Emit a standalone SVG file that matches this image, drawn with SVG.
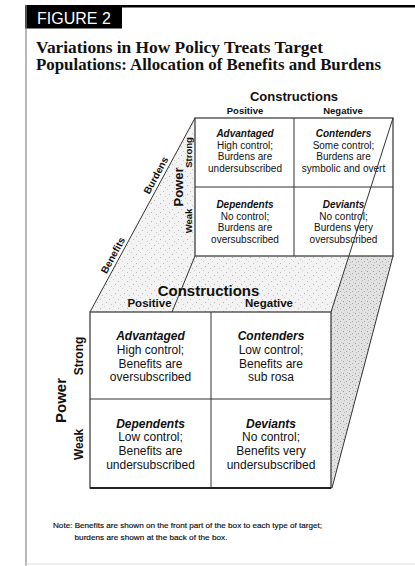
<svg xmlns="http://www.w3.org/2000/svg" width="415" height="566" viewBox="0 0 415 566">
<defs>
<pattern id="stip" width="9" height="9" patternUnits="userSpaceOnUse">
<rect width="9" height="9" fill="#f3f3f3"/>
<rect x="1" y="2" width="1" height="1" fill="#bdbdbd"/>
<rect x="5" y="0" width="1" height="1" fill="#cfcfcf"/>
<rect x="7" y="5" width="1" height="1" fill="#b5b5b5"/>
<rect x="3" y="7" width="1" height="1" fill="#c8c8c8"/>
</pattern>
<pattern id="stip2" width="6" height="6" patternUnits="userSpaceOnUse">
<rect width="6" height="6" fill="#e2e2e2"/>
<rect x="1" y="1" width="1" height="1" fill="#9a9a9a"/>
<rect x="4" y="3" width="1" height="1" fill="#a8a8a8"/>
<rect x="2" y="4" width="1" height="1" fill="#bbbbbb"/>
<rect x="5" y="0" width="1" height="1" fill="#c4c4c4"/>
</pattern>
</defs>
<style>
.s{font-family:"Liberation Sans",Arial,sans-serif;fill:#111}
.b{font-weight:bold}
.bi{font-weight:bold;font-style:italic}
.c{text-anchor:middle}
.t{font-family:"Liberation Serif","Times New Roman",serif;font-weight:bold;font-size:16.5px;fill:#111}
.box{fill:#fff;stroke:#333;stroke-width:1.2}
.edge{stroke:#333;stroke-width:1;fill:none}
.bk{font-size:10px}
.fr{font-size:12px}
</style>
<rect width="415" height="566" fill="#fff"/>
<g id="frame">
<rect x="25" y="5" width="390" height="2.5" fill="#000"/>
<rect x="25" y="5" width="97" height="23.5" fill="#000"/>
<line x1="26" y1="5" x2="26" y2="566" stroke="#888" stroke-width="1.2"/>
<line x1="26" y1="564" x2="415" y2="564" stroke="#ddd" stroke-width="1"/>
<text x="37" y="24" font-family="Liberation Sans,Arial,sans-serif" font-size="16" fill="#fff">FIGURE 2</text>
</g>
<g id="title">
<text class="t" x="36" y="52.5" textLength="287" lengthAdjust="spacingAndGlyphs">Variations in How Policy Treats Target</text>
<text class="t" x="36" y="70" textLength="345" lengthAdjust="spacingAndGlyphs">Populations: Allocation of Benefits and Burdens</text>
</g>
<g id="faces">
<polygon points="195,118 195,256 349,256 331,312 90,312" fill="url(#stip)"/>
<polygon points="349,256 393,256 332,488 331,488 331,312" fill="url(#stip2)"/>
</g>
<g id="back-labels">
<text class="s b c" x="294" y="101" font-size="13">Constructions</text>
<text class="s b c" x="245" y="114" font-size="9.5">Positive</text>
<text class="s b c" x="343" y="114" font-size="9.5">Negative</text>
<text class="s b c" transform="translate(182.5,187) rotate(-90)" font-size="13">Power</text>
<text class="s b c" transform="translate(191.5,152.5) rotate(-90)" font-size="9.5">Strong</text>
<text class="s b c" transform="translate(191.5,221) rotate(-90)" font-size="9.5">Weak</text>
<text class="s b c" transform="translate(159,177) rotate(-61.6)" font-size="10">Burdens</text>
<text class="s b c" transform="translate(116,257) rotate(-61.6)" font-size="10">Benefits</text>
</g>
<g id="back-box">
<rect class="box" x="195" y="118" width="198" height="138"/>
<line class="edge" x1="294" y1="118" x2="294" y2="256"/>
<line class="edge" x1="195" y1="187" x2="393" y2="187"/>
</g>
<g id="back-advantaged">
<text class="s bi c bk" x="245" y="137">Advantaged</text>
<text class="s c bk" x="245" y="148.7">High control;</text>
<text class="s c bk" x="245" y="160.4">Burdens are</text>
<text class="s c bk" x="245" y="172">undersubscribed</text>
</g>
<g id="back-contenders">
<text class="s bi c bk" x="343.5" y="137">Contenders</text>
<text class="s c bk" x="343.5" y="148.7">Some control;</text>
<text class="s c bk" x="343.5" y="160.4">Burdens are</text>
<text class="s c bk" x="343.5" y="172">symbolic and overt</text>
</g>
<g id="back-dependents">
<text class="s bi c bk" x="245" y="208">Dependents</text>
<text class="s c bk" x="245" y="219.7">No control;</text>
<text class="s c bk" x="245" y="231.4">Burdens are</text>
<text class="s c bk" x="245" y="243">oversubscribed</text>
</g>
<g id="back-deviants">
<text class="s bi c bk" x="343.5" y="208">Deviants</text>
<text class="s c bk" x="343.5" y="219.7">No control;</text>
<text class="s c bk" x="343.5" y="231.4">Burdens very</text>
<text class="s c bk" x="343.5" y="243">oversubscribed</text>
</g>
<g id="connectors">
<line class="edge" x1="195" y1="118" x2="90" y2="312"/>
<line class="edge" x1="195" y1="256" x2="172" y2="312"/>
<line class="edge" x1="393" y1="118" x2="331" y2="312"/>
<line class="edge" x1="393" y1="256" x2="332" y2="488"/>
</g>
<g id="front-labels">
<text class="s b c" x="208.5" y="295.5" font-size="15">Constructions</text>
<text class="s b c" x="149.5" y="307" font-size="11.5">Positive</text>
<text class="s b c" x="269" y="307" font-size="11.5">Negative</text>
<text class="s b c" transform="translate(65.5,400.5) rotate(-90)" font-size="15">Power</text>
<text class="s b c" transform="translate(82.5,356) rotate(-90)" font-size="12">Strong</text>
<text class="s b c" transform="translate(82.5,444.5) rotate(-90)" font-size="12">Weak</text>
</g>
<g id="front-box">
<rect class="box" x="90" y="312" width="241" height="176"/>
<line class="edge" x1="211" y1="312" x2="211" y2="488" stroke-width="1.2"/>
<line class="edge" x1="90" y1="399" x2="331" y2="399" stroke-width="1.2"/>
<line x1="90" y1="488" x2="331" y2="488" stroke="#222" stroke-width="2"/>
</g>
<g id="front-advantaged">
<text class="s bi c fr" x="150.5" y="340">Advantaged</text>
<text class="s c fr" x="150.5" y="354">High control;</text>
<text class="s c fr" x="150.5" y="367.5">Benefits are</text>
<text class="s c fr" x="150.5" y="381">oversubscribed</text>
</g>
<g id="front-contenders">
<text class="s bi c fr" x="271" y="340">Contenders</text>
<text class="s c fr" x="271" y="354">Low control;</text>
<text class="s c fr" x="271" y="367.5">Benefits are</text>
<text class="s c fr" x="271" y="381">sub rosa</text>
</g>
<g id="front-dependents">
<text class="s bi c fr" x="150.5" y="427.5">Dependents</text>
<text class="s c fr" x="150.5" y="441">Low control;</text>
<text class="s c fr" x="150.5" y="455">Benefits are</text>
<text class="s c fr" x="150.5" y="469">undersubscribed</text>
</g>
<g id="front-deviants">
<text class="s bi c fr" x="271" y="427.5">Deviants</text>
<text class="s c fr" x="271" y="441">No control;</text>
<text class="s c fr" x="271" y="455">Benefits very</text>
<text class="s c fr" x="271" y="469">undersubscribed</text>
</g>
<g id="note">
<text class="s" x="53" y="528" font-size="7.5" fill="#000" stroke="#000" stroke-width="0.15" textLength="269" lengthAdjust="spacingAndGlyphs">Note: Benefits are shown on the front part of the box to each type of target;</text>
<text class="s" x="74.5" y="540" font-size="7.5" fill="#000" stroke="#000" stroke-width="0.15" textLength="153" lengthAdjust="spacingAndGlyphs">burdens are shown at the back of the box.</text>
</g>
</svg>
